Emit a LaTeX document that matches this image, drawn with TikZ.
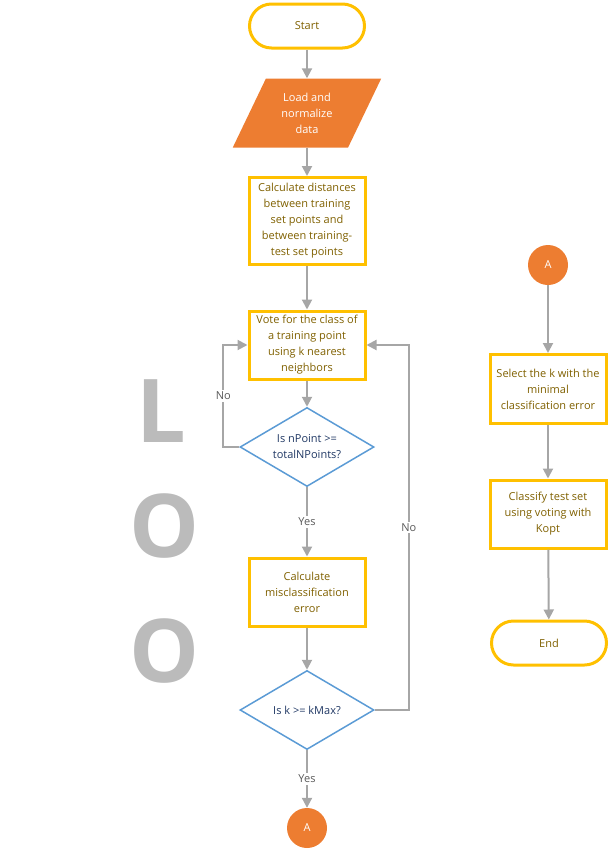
\documentclass[tikz,border=0pt]{standalone}
\usepackage{fontspec}
\setmainfont{Open Sans}
\newfontfamily\loofont{Open Sans}
\usetikzlibrary{arrows.meta,shapes.geometric}
\definecolor{gold}{HTML}{FFC000}
\definecolor{boxtext}{HTML}{7F6000}
\definecolor{flowgray}{HTML}{A6A6A6}
\definecolor{orangefill}{HTML}{ED7D31}
\definecolor{decblue}{HTML}{5B9BD5}
\definecolor{dectext}{HTML}{203864}
\definecolor{loogray}{HTML}{BBBBBB}
\tikzstyle{every node}=[font=\fontsize{11}{16}\selectfont,align=center,inner sep=0pt]
\tikzstyle{terminal}=[draw=gold,line width=3pt,rounded corners=22pt,text=boxtext,minimum width=115pt,minimum height=44pt]
\tikzstyle{process}=[draw=gold,line width=3pt,text=boxtext,minimum width=116pt]
\tikzstyle{io}=[trapezium,trapezium left angle=63,trapezium right angle=117,trapezium stretches=true,fill=orangefill,text=white,minimum width=149pt,minimum height=69pt]
\tikzstyle{decision}=[diamond,draw=decblue,line width=1.5pt,text=dectext,inner sep=-8pt,minimum width=134pt,minimum height=79pt]
\tikzstyle{connector}=[circle,fill=orangefill,text=white,minimum size=40pt]
\tikzstyle{conn}=[draw=flowgray,line width=2pt,-{Triangle[width=10pt,length=10pt]}]
\tikzstyle{lbl}=[fill=white,text=black!65,inner sep=2pt]
\tikzstyle{loo}=[text=loogray,font=\loofont\bfseries\fontsize{88}{88}\selectfont]

\begin{document}
\begin{tikzpicture}[x=1pt, y=-1pt]
	\useasboundingbox (0,0) rectangle (615,849);
	% main column
	\node[terminal] (start) at (307,26) {Start};
	\node[io] (load) at (307,113) {Load and\\normalize\\data};
	\node[process, minimum height=87pt] (dist) at (307,221) {Calculate distances\\between training\\set points and\\between training-\\test set points};
	\node[process, minimum height=68pt] (vote) at (307,345) {Vote for the class of\\a training point\\using k nearest\\neighbors};
	\node[decision] (npoint) at (307,447) {Is nPoint >=\\totalNPoints?};
	\node[process, minimum height=68pt] (miserr) at (307,592) {Calculate\\misclassification\\error};
	\node[decision] (kmax) at (307,710) {Is k >= kMax?};
	\node[connector] (a1) at (307,828) {A};
	% right column
	\node[connector] (a2) at (548,265) {A};
	\node[process, minimum height=69pt] (select) at (548,389) {Select the k with the\\minimal\\classification error};
	\node[process, minimum height=68pt] (classify) at (548,514) {Classify test set\\using voting with\\Kopt};
	\node[terminal] (end) at (549,643) {End};
	% LOO
	\node[loo] (lL) at (161,411) {L};
	\node[loo] (lO1) at (165,526) {O};
	\node[loo] (lO2) at (165,651) {O};
	% connectors
	\draw[conn] (start) -- (load);
	\draw[conn] (load) -- (dist);
	\draw[conn] (dist) -- (vote);
	\draw[conn] (vote) -- (npoint);
	\draw[conn] (npoint) -- (miserr) node[lbl, midway] {Yes};
	\draw[conn] (npoint.west) -- ++(-16,0) |- (vote.west) node[lbl, pos=0.25] {No};
	\draw[conn] (miserr) -- (kmax);
	\draw[conn] (kmax) -- (a1) node[lbl, midway] {Yes};
	\draw[conn] (kmax.east) -- ++(34,0) |- (vote.east) node[lbl, pos=0.25] {No};
	\draw[conn] (a2) -- (select);
	\draw[conn] (select) -- (classify);
	\draw[conn] (classify) -- (end);
\end{tikzpicture}
\end{document}
